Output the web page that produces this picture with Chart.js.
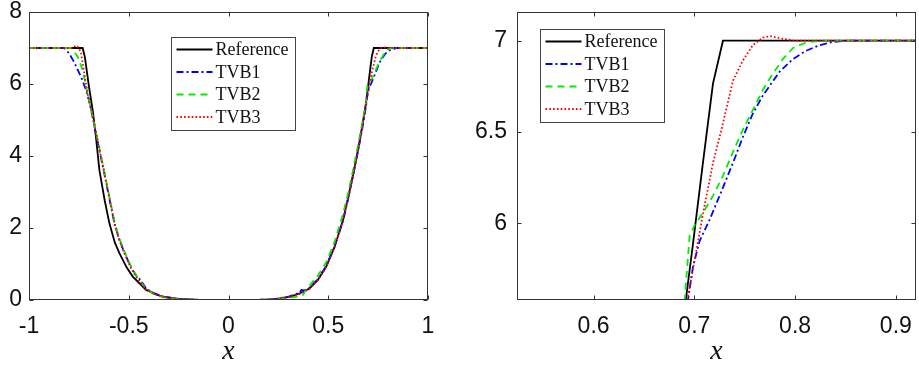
<!DOCTYPE html>
<html lang="en">
<head>
<meta charset="UTF-8">
<title>TVB comparison</title>
<style>
  html, body { margin: 0; padding: 0; background: #fff; }
  #wrap { position: relative; width: 919px; height: 368px; }
  #leftChart { position: absolute; left: 0; top: 0; }
  #rightChart { position: absolute; left: 460px; top: 0; }
</style>
</head>
<body>
<div id="wrap">
  <canvas id="leftChart" width="460" height="368"></canvas>
  <canvas id="rightChart" width="459" height="368"></canvas>
</div>

<script src="https://cdn.jsdelivr.net/npm/chart.js"></script>

<script>
  // values
  const seriesNames = ['Reference', 'TVB1', 'TVB2', 'TVB3'];

  const refX = [-1, -0.731, -0.72, -0.71, -0.70, -0.68, -0.664, -0.647, -0.62, -0.597, -0.57, -0.547, -0.51, -0.48, -0.413, -0.33, -0.25, -0.15, 0,
    0.15, 0.2, 0.25, 0.306, 0.356, 0.406, 0.448, 0.49, 0.532, 0.55, 0.574, 0.60, 0.625, 0.65, 0.67, 0.6885, 0.6985, 0.7085, 0.7185, 0.7284, 1];
  const refY = [7, 7, 6.75, 6.35, 5.95, 5.25, 4.5, 3.6, 2.75, 2.13, 1.6, 1.3, 0.9, 0.65, 0.28, 0.09, 0.03, 0.005, 0,
    0.005, 0.015, 0.04, 0.09, 0.18, 0.32, 0.56, 0.93, 1.48, 1.8, 2.22, 2.85, 3.5, 4.2, 4.82, 5.45, 5.88, 6.33, 6.765, 7, 7];

  const tvb1X = [-1, -0.823, -0.814, -0.798, -0.773, -0.748, -0.739, -0.714, -0.697, -0.68, -0.656, -0.622, -0.6, -0.572, -0.55, -0.522, -0.49, -0.463, -0.44, -0.413, -0.37, -0.33, -0.25, -0.15, 0,
    0.15, 0.2, 0.25, 0.306, 0.356, 0.365, 0.38, 0.406, 0.448, 0.49, 0.532, 0.574, 0.60, 0.625, 0.65, 0.67, 0.6885, 0.6937, 0.6986, 0.705, 0.7152, 0.725, 0.7383, 0.748, 0.758, 0.768, 0.7846, 0.798, 0.811, 0.824, 0.8375, 0.851, 1];
  const tvb1Y = [7, 7, 6.95, 6.84, 6.6, 6.3, 6.2, 5.83, 5.5, 5.05, 4.4, 3.5, 2.9, 2.13, 1.72, 1.32, 0.92, 0.68, 0.55, 0.32, 0.17, 0.1, 0.03, 0.005, 0,
    0.005, 0.015, 0.04, 0.1, 0.2, 0.28, 0.27, 0.34, 0.58, 0.95, 1.5, 2.2, 2.82, 3.47, 4.15, 4.75, 5.35, 5.58, 5.76, 5.9, 6.02, 6.15, 6.33, 6.47, 6.6, 6.7, 6.83, 6.9, 6.945, 6.975, 6.993, 7, 7];

  const tvb2X = [-1, -0.79, -0.781, -0.756, -0.731, -0.714, -0.697, -0.68, -0.656, -0.622, -0.6, -0.572, -0.55, -0.522, -0.49, -0.463, -0.413, -0.37, -0.33, -0.25, -0.15, 0,
    0.15, 0.2, 0.25, 0.306, 0.356, 0.373, 0.39, 0.406, 0.448, 0.49, 0.532, 0.574, 0.60, 0.625, 0.65, 0.67, 0.6885, 0.6904, 0.6953, 0.7003, 0.710, 0.7185, 0.7284, 0.7383, 0.748, 0.758, 0.768, 0.778, 0.788, 0.798, 0.811, 0.825, 1];
  const tvb2Y = [7, 7, 6.95, 6.76, 6.39, 5.93, 5.5, 5.08, 4.45, 3.55, 2.95, 2.18, 1.75, 1.35, 0.95, 0.68, 0.3, 0.15, 0.08, 0.02, 0.003, 0,
    0.003, 0.01, 0.03, 0.06, 0.1, 0.14, 0.3, 0.4, 0.68, 1.05, 1.62, 2.38, 2.98, 3.62, 4.32, 4.9, 5.48, 5.58, 5.93, 5.99, 6.07, 6.15, 6.26, 6.39, 6.51, 6.62, 6.73, 6.82, 6.9, 6.96, 6.99, 7, 7];

  const tvb3X = [-1, -0.78, -0.765, -0.75, -0.739, -0.723, -0.706, -0.68, -0.656, -0.622, -0.6, -0.572, -0.55, -0.522, -0.49, -0.463, -0.413, -0.37, -0.33, -0.25, -0.15, 0,
    0.15, 0.2, 0.25, 0.306, 0.356, 0.406, 0.448, 0.49, 0.532, 0.574, 0.60, 0.625, 0.65, 0.67, 0.6885, 0.6937, 0.702, 0.7085, 0.7185, 0.7268, 0.7383, 0.748, 0.758, 0.768, 0.776, 0.788, 0.80, 1];
  const tvb3Y = [7, 7, 7.07, 7.0, 6.85, 6.3, 5.72, 5.06, 4.42, 3.52, 2.92, 2.15, 1.7, 1.3, 0.9, 0.64, 0.3, 0.16, 0.09, 0.025, 0.004, 0,
    0.004, 0.012, 0.035, 0.085, 0.17, 0.31, 0.55, 0.92, 1.47, 2.2, 2.83, 3.48, 4.18, 4.8, 5.42, 5.6, 5.85, 6.05, 6.33, 6.51, 6.78, 6.89, 6.975, 7.017, 7.024, 7.01, 7.0, 7];

  const leftXTicks = [-1, -0.5, 0, 0.5, 1];
  const leftYTicks = [0, 2, 4, 6, 8];
  const rightXTicks = [0.6, 0.7, 0.8, 0.9];
  const rightYTicks = [6, 6.5, 7];

  function pts(xs, ys) {
    return xs.map((x, i) => ({ x: x, y: ys[i] }));
  }

  function makeDatasets() {
    const styles = [
      { color: '#000000', dash: [], order: 4 },
      { color: '#0000ff', dash: [7, 3, 2, 3], order: 3 },
      { color: '#00ee00', dash: [7, 5], order: 2 },
      { color: '#ff0000', dash: [1.6, 2.2], order: 1 }
    ];
    const sets = [pts(refX, refY), pts(tvb1X, tvb1Y), pts(tvb2X, tvb2Y), pts(tvb3X, tvb3Y)];
    return sets.map((d, i) => ({
      label: seriesNames[i],
      data: d,
      borderColor: styles[i].color,
      borderDash: styles[i].dash,
      borderWidth: 1.8,
      order: styles[i].order,
      pointRadius: 0,
      fill: false,
      tension: 0
    }));
  }

  // box, inward ticks and a matlab-like legend
  const frame = {
    id: 'frame',
    afterDatasetsDraw(chart, args, opts) {
      const ctx = chart.ctx;
      const a = chart.chartArea;
      const xs = chart.scales.x, ys = chart.scales.y;
      const L = Math.round(a.left) + 0.5, R = Math.round(a.right) - 0.5;
      const T = Math.round(a.top) + 0.5, B = Math.round(a.bottom) - 0.5;
      ctx.save();
      ctx.strokeStyle = '#333';
      ctx.lineWidth = 1;
      ctx.setLineDash([]);
      ctx.beginPath();
      xs.ticks.forEach(t => {
        const p = Math.round(xs.getPixelForValue(t.value)) + 0.5;
        ctx.moveTo(p, B); ctx.lineTo(p, B - 4);
        ctx.moveTo(p, T); ctx.lineTo(p, T + 4);
      });
      ys.ticks.forEach(t => {
        const p = Math.round(ys.getPixelForValue(t.value)) + 0.5;
        ctx.moveTo(L, p); ctx.lineTo(L + 4, p);
        ctx.moveTo(R, p); ctx.lineTo(R - 4, p);
      });
      ctx.stroke();
      ctx.strokeRect(L, T, R - L, B - T);

      // legend
      const lx = Math.round(a.left + opts.dx) + 0.5;
      const ly = Math.round(a.top + opts.dy) + 0.5;
      const w = 124, h = 93;
      ctx.fillStyle = '#fff';
      ctx.fillRect(lx, ly, w, h);
      ctx.strokeStyle = '#444';
      ctx.strokeRect(lx, ly, w, h);
      ctx.font = '18px "Liberation Serif", "Times New Roman", serif';
      ctx.textBaseline = 'middle';
      ctx.fillStyle = '#111';
      chart.data.datasets.forEach((ds, i) => {
        const ry = ly + 12 + i * 22.5;
        ctx.strokeStyle = ds.borderColor;
        ctx.lineWidth = ds.borderWidth;
        ctx.setLineDash(ds.borderDash);
        ctx.beginPath();
        ctx.moveTo(lx + 5, ry);
        ctx.lineTo(lx + 41, ry);
        ctx.stroke();
        ctx.fillText(ds.label, lx + 44, ry + 1);
      });
      ctx.restore();
    }
  };

  const tickFont = { family: '"Liberation Sans", Arial, sans-serif', size: 23 };

  function axes(xMin, xMax, xTicks, yMin, yMax, yTicks, yWidth, yPad) {
    return {
      x: {
        type: 'linear',
        min: xMin,
        max: xMax,
        afterBuildTicks: s => { s.ticks = xTicks.map(v => ({ value: v })); },
        afterFit: s => { s.height = 68; s.paddingLeft = 0; s.paddingRight = 0; },
        grid: { display: false, drawTicks: false },
        border: { display: false },
        ticks: { font: tickFont, color: '#111', padding: 13, maxRotation: 0, callback: v => String(v) },
        title: {
          display: true,
          text: 'x',
          color: '#111',
          font: { family: '"Liberation Serif", "Times New Roman", serif', style: 'italic', size: 28 },
          padding: { top: 0, bottom: 0 }
        }
      },
      y: {
        type: 'linear',
        min: yMin,
        max: yMax,
        afterBuildTicks: s => { s.ticks = yTicks.map(v => ({ value: v })); },
        afterFit: s => { s.width = yWidth; s.paddingTop = 0; s.paddingBottom = 0; },
        grid: { display: false, drawTicks: false },
        border: { display: false },
        ticks: { font: tickFont, color: '#111', padding: yPad, callback: v => String(v) }
      }
    };
  }

  new Chart(document.getElementById('leftChart'), {
    type: 'line',
    data: { datasets: makeDatasets() },
    options: {
      responsive: false,
      animation: false,
      layout: { padding: { top: 12, right: 32, left: 0, bottom: 0 } },
      scales: axes(-1, 1, leftXTicks, 0, 8, leftYTicks, 29, 7),
      plugins: { legend: { display: false }, tooltip: { enabled: false }, frame: { dx: 142, dy: 25 } }
    },
    plugins: [frame]
  });

  new Chart(document.getElementById('rightChart'), {
    type: 'line',
    data: { datasets: makeDatasets() },
    options: {
      responsive: false,
      animation: false,
      layout: { padding: { top: 12, right: 3, left: 0, bottom: 0 } },
      scales: axes(0.524, 0.92, rightXTicks, 5.58, 7.157, rightYTicks, 57, 10),
      plugins: { legend: { display: false }, tooltip: { enabled: false }, frame: { dx: 23, dy: 17 } }
    },
    plugins: [frame]
  });
</script>
</body>
</html>
